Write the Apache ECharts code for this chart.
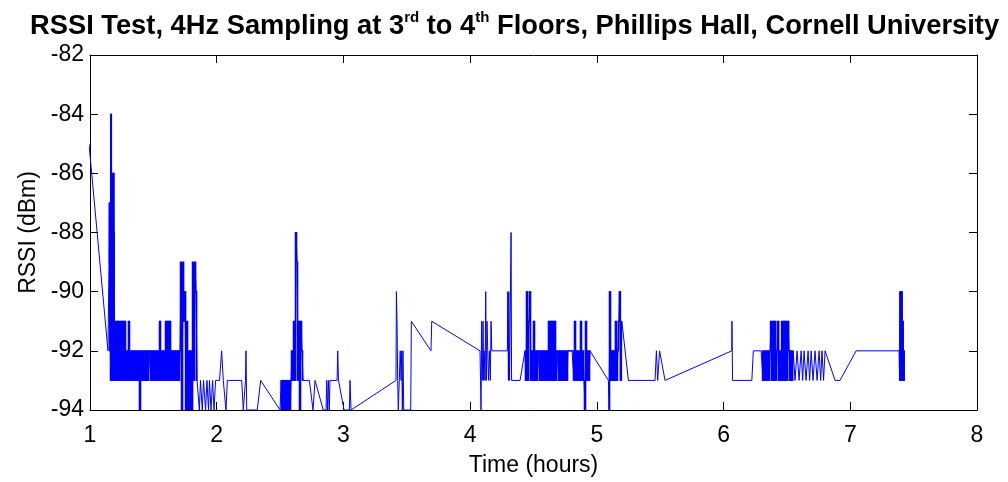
<!DOCTYPE html>
<html>
<head>
<meta charset="utf-8">
<title>RSSI Test</title>
<script src="https://cdn.jsdelivr.net/npm/echarts@6/dist/echarts.min.js"></script>
<style>
html, body { margin: 0; padding: 0; background: #fff; }
#main { width: 1008px; height: 482px; }
</style>
</head>
<body>
<div id="main"></div>
<script>
// RSSI log, time in hours, value in dBm
// sparse stretches are [hours, dBm] pairs, dense bursts are evenly spaced samples
var leadIn = [[0.992, -85], [1.142, -92]];

var burstB = {from: 1.150, to: 1.193, values: [-89,-87,-92,-88,-93,-84,-93,-88,-92,-86,-88,-93,-86,-88,-91,-93]};

var burstC = {from: 1.197, to: 1.845, values: [
	-91,-93,-91,-93,-91,-93,-91,-93,-91,-93,
	-91,-93,-92,-93,-91,-93,-92,-93,-92,-93,
	-92,-93,-92,-93,-92,-94,-92,-93,-92,-93,
	-92,-93,-92,-93,-92,-92,-93,-92,-93,-92,
	-93,-92,-93,-92,-93,-91,-93,-92,-93,-92,
	-93,-91,-93,-91,-93,-91,-93,-92,-93,-92,
	-93,-92,-93,-92,-93,-92,-89,-94,-89,-91,
	-90,-94,-91,-94,-92,-94,-92,-94,-89,-93,
	-89,-90,-93]};

var sparseD = [[1.852,-93],[1.863,-94],[1.872,-93],[1.886,-94],[1.896,-93],[1.912,-94],
	[1.923,-93],[1.935,-94],[1.943,-93],[1.955,-94],[1.967,-93],[1.979,-94],[1.991,-93],
	[2.022,-93],[2.039,-92],[2.052,-93],[2.073,-94],[2.084,-93],[2.197,-93],[2.210,-94],
	[2.227,-93],[2.231,-92],[2.237,-94],[2.320,-94],[2.347,-93],[2.500,-94]];

var burstE = {from: 2.508, to: 2.681, values: [
	-93,-94,-93,-94,-93,-94,-93,-94,-93,-94,-93,-92,-93,-91,-93,-88,-89,-93,-91,-94,-91,-92,-93]};

var sparseF = [[2.731,-93],[2.760,-94],[2.776,-93],[2.841,-94],[2.863,-94],[2.868,-93],
	[2.875,-94],[2.881,-93],[2.888,-94],[2.894,-93],[2.950,-93],[2.955,-92],[2.961,-93],
	[3.005,-94],[3.047,-94],[3.052,-93],[3.060,-94],
	[3.415,-93],[3.418,-90],[3.423,-91],[3.428,-93],[3.433,-94],[3.441,-93],[3.448,-92],
	[3.455,-93],[3.460,-92],[3.465,-94],[3.470,-92],[3.476,-94],[3.531,-94],[3.536,-91],
	[3.691,-92],[3.697,-91],[4.078,-92],[4.082,-93],[4.086,-94],[4.090,-91],[4.096,-93],
	[4.102,-91],[4.107,-93],[4.111,-92],[4.118,-93],[4.123,-90],[4.128,-93],[4.133,-91],
	[4.139,-92],[4.145,-93],[4.153,-92],[4.159,-93],[4.165,-91],[4.171,-92],[4.294,-92],
	[4.297,-90],[4.302,-93],[4.305,-90],[4.311,-93],[4.323,-88],[4.327,-93],[4.394,-93]];

var burstG = {from: 4.433, to: 4.946, values: [
	-92,-93,-90,-93,-91,-90,-93,-92,-93,-91,
	-93,-92,-93,-92,-92,-93,-92,-93,-92,-93,
	-92,-93,-92,-93,-91,-93,-91,-93,-91,-93,
	-91,-93,-92,-92,-93,-92,-93,-92,-93,-92,
	-93,-92,-93,-92,-92,-92,-92,-92,-92,-93,
	-91,-93,-92,-93,-92,-93,-91,-93,-92,-93,
	-94,-91,-93,-92,-93,-92]};

var sparseG = [[4.960,-92],[5.091,-93]];

var burstH = {from: 5.096, to: 5.197, values: [-94,-90,-93,-92,-93,-92,-93,-91,-93,-92,-91,-90,-93,-91]};

var sparseH = [[5.249,-93],[5.459,-93],[5.470,-92],[5.480,-93],[5.495,-92],[5.507,-92],
	[5.538,-93],[6.065,-92],[6.066,-91],[6.071,-93],[6.223,-93],[6.235,-92],[6.296,-92]];

var burstI = {from: 6.304, to: 6.549, values: [
	-92,-93,-92,-93,-92,-93,-92,-93,-92,-91,
	-93,-91,-93,-91,-93,-92,-91,-93,-92,-93,
	-91,-93,-91,-93,-91,-93,-91,-92,-93,-92,
	-93,-92]};

var sparseI = [[6.564,-93],[6.580,-92],[6.596,-93],[6.612,-92],[6.624,-93],[6.635,-92],
	[6.651,-93],[6.667,-92],[6.679,-93],[6.691,-92],[6.706,-93],[6.722,-92],[6.738,-93],
	[6.754,-92],[6.766,-93],[6.777,-92],[6.789,-93],[6.801,-92],[6.880,-93],[6.919,-93],
	[7.046,-92],[7.385,-92]];

var burstJ = {from: 7.389, to: 7.425, values: [-93,-90,-93,-91,-90,-93,-91,-92,-93,-92]};

var xTicks = [1, 8, 1];     // min, max, step (hours)
var yTicks = [-94, -82, 2]; // min, max, step (dBm)

var titleParts = ['RSSI Test, 4Hz Sampling at 3', 'rd', ' to 4', 'th', ' Floors, Phillips Hall, Cornell University'];

// put a burst on the time axis, samples evenly spaced between from and to
function burstPoints(b){
	var pts = [];
	var n = b.values.length;
	var step = n > 1 ? (b.to - b.from) / (n - 1) : 0;
	for(var i = 0; i < n; i++){
		pts.push([b.from + i * step, b.values[i]]);
	}
	return pts;
}

var bursts = [burstB, burstC, burstE, burstG, burstH, burstI, burstJ];

var rssiData = [].concat(
	leadIn, burstPoints(burstB), burstPoints(burstC), sparseD, burstPoints(burstE), sparseF,
	burstPoints(burstG), sparseG, burstPoints(burstH), sparseH, burstPoints(burstI), sparseI,
	burstPoints(burstJ)
);

// swept band of every step inside a burst: [t0, t1, low, high]
// (at 4Hz the original trace sweeps these bands solid)
var burstBands = [];
bursts.forEach(function(b){
	var pts = burstPoints(b);
	for(var i = 0; i < pts.length - 1; i++){
		burstBands.push([pts[i][0], pts[i+1][0],
			Math.min(pts[i][1], pts[i+1][1]), Math.max(pts[i][1], pts[i+1][1])]);
	}
});

var font = 'Liberation Sans, Arial, Helvetica, sans-serif';
var blue = '#0000ff';

function boxAxis(pos, range, withLabels){
	return {
		type: 'value',
		position: pos,
		min: range[0],
		max: range[1],
		interval: range[2],
		axisLine: {show: true, onZero: false, lineStyle: {color: '#000', width: 1}},
		axisTick: {show: true, inside: true, length: 8, lineStyle: {color: '#000'}},
		axisLabel: {show: withLabels, color: '#000', fontSize: 23, fontFamily: font},
		splitLine: {show: false}
	};
}

var myChart = echarts.init(document.getElementById('main'), null, {renderer: 'canvas'});

var xBottom = boxAxis('bottom', xTicks, true);
xBottom.axisLabel.margin = 14;
xBottom.name = 'Time (hours)';
xBottom.nameLocation = 'middle';
xBottom.nameGap = 44;
xBottom.nameTextStyle = {color: '#000', fontSize: 23, fontFamily: font};

var yLeft = boxAxis('left', yTicks, true);
yLeft.axisLabel.margin = 6;
yLeft.name = 'RSSI (dBm)';
yLeft.nameLocation = 'middle';
yLeft.nameGap = 50;
yLeft.nameTextStyle = {color: '#000', fontSize: 23, fontFamily: font};

var option = {
	animation: false,
	backgroundColor: '#fff',
	title: {
		text: '{a|' + titleParts[0] + '}{s|' + titleParts[1] + '}{a|' + titleParts[2] + '}{s|' + titleParts[3] + '}{a|' + titleParts[4] + '}',
		left: 25,
		top: 5,
		textStyle: {
			rich: {
				a: {fontSize: 27.3, fontWeight: 'bold', color: '#000', fontFamily: font, lineHeight: 32},
				s: {fontSize: 15, fontWeight: 'bold', color: '#000', fontFamily: font, verticalAlign: 'top', lineHeight: 15}
			}
		}
	},
	grid: {left: 90, right: 31, top: 55, bottom: 70, show: false},
	xAxis: [xBottom, boxAxis('top', xTicks, false)],
	yAxis: [yLeft, boxAxis('right', yTicks, false)],
	series: [{
		// solid bands of the dense bursts
		type: 'custom',
		data: burstBands,
		encode: {x: [0, 1], y: [2, 3]},
		clip: true,
		renderItem: function(params, api){
			var a = api.coord([api.value(0), api.value(3)]);
			var b = api.coord([api.value(1), api.value(2)]);
			return {
				type: 'rect',
				shape: {x: a[0] - 0.3, y: a[1] - 0.5, width: Math.max(b[0] - a[0], 1) + 0.6, height: b[1] - a[1] + 1},
				style: {fill: blue}
			};
		}
	}, {
		// the whole trace as one line
		type: 'line',
		data: rssiData,
		showSymbol: false,
		symbol: 'none',
		clip: true,
		lineStyle: {color: blue, width: 1},
		itemStyle: {color: blue}
	}]
};

myChart.setOption(option);
</script>
</body>
</html>
